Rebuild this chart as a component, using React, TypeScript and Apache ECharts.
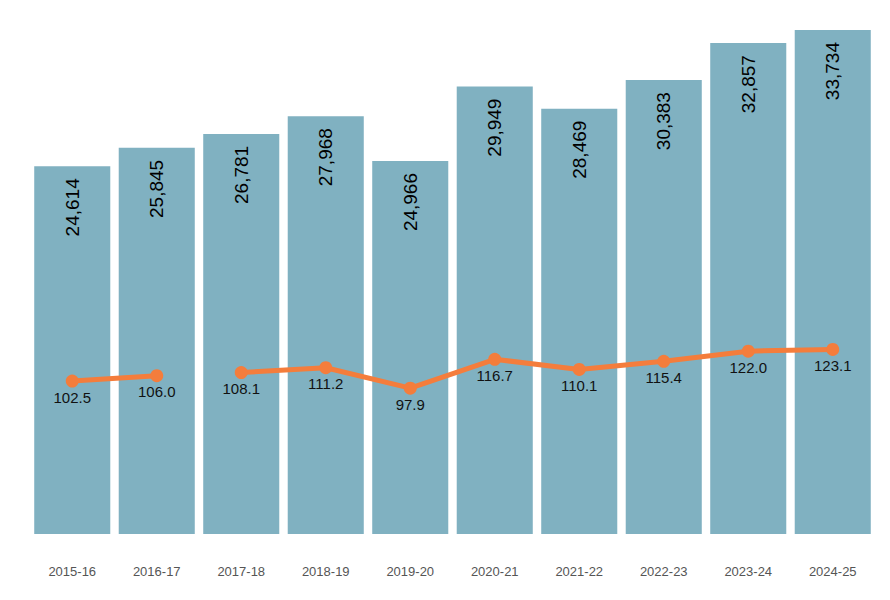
import React, { useEffect, useRef } from "react";
import * as echarts from "echarts";

const years = [
  "2015-16", "2016-17", "2017-18", "2018-19", "2019-20",
  "2020-21", "2021-22", "2022-23", "2023-24", "2024-25",
];
const totals = [24614, 25845, 26781, 27968, 24966, 29949, 28469, 30383, 32857, 33734];
const indexValues = [102.5, 106.0, 108.1, 111.2, 97.9, 116.7, 110.1, 115.4, 122.0, 123.1];
// the index line is interrupted after this position
const lineBreakAfter = 1;

const barColor = "#80b1c1";
const lineColor = "#f47d3c";

export default function App() {
  const ref = useRef<HTMLDivElement>(null);

  useEffect(() => {
    if (!ref.current) return;
    const chart = echarts.init(ref.current, null, { renderer: "svg" });

    const firstPart = indexValues.map((v, i) => (i <= lineBreakAfter ? v : null));
    const secondPart = indexValues.map((v, i) => (i > lineBreakAfter ? v : null));

    const lineSeries = (data: (number | null)[]) => ({
      type: "line",
      yAxisIndex: 1,
      data,
      symbol: "circle",
      symbolSize: 13,
      connectNulls: false,
      lineStyle: { color: lineColor, width: 5 },
      itemStyle: { color: lineColor },
      label: {
        show: true,
        position: "bottom",
        distance: 2,
        color: "#111",
        fontSize: 15,
        fontFamily: "Liberation Sans, Arial, sans-serif",
        formatter: (p: any) => Number(p.value).toFixed(1),
      },
      z: 3,
    });

    chart.setOption({
      animation: false,
      grid: { left: 30, right: 15, top: 30, bottom: 66, containLabel: false },
      xAxis: {
        type: "category",
        data: years,
        axisLine: { show: false },
        axisTick: { show: false },
        axisLabel: {
          color: "#555",
          fontSize: 13,
          margin: 31,
          fontFamily: "Liberation Sans, Arial, sans-serif",
        },
      },
      yAxis: [
        {
          type: "value",
          min: 0,
          max: (v: any) => v.max,
          show: false,
          splitLine: { show: false },
        },
        {
          type: "value",
          min: 3,
          max: 331,
          show: false,
          splitLine: { show: false },
        },
      ],
      series: [
        {
          type: "bar",
          data: totals,
          barCategoryGap: "10%",
          itemStyle: { color: barColor },
          label: {
            show: true,
            position: "insideTop",
            distance: 12,
            rotate: 90,
            align: "right",
            verticalAlign: "middle",
            color: "#000",
            fontSize: 19,
            fontFamily: "Liberation Sans, Arial, sans-serif",
            formatter: (p: any) => Number(p.value).toLocaleString("en-US"),
          },
        },
        lineSeries(firstPart),
        lineSeries(secondPart),
      ],
    });

    return () => chart.dispose();
  }, []);

  return (
    <div
      ref={ref}
      style={{ position: "fixed", left: 0, top: 0, width: 890, height: 600, background: "#fff" }}
    />
  );
}
